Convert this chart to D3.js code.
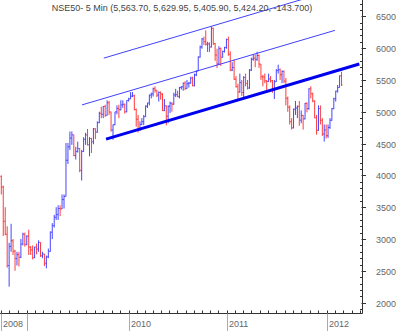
<!DOCTYPE html>
<html><head><meta charset="utf-8">
<script src="https://cdn.jsdelivr.net/npm/d3@7"></script>
<style>html,body{margin:0;padding:0;background:#fff;}svg{display:block;}</style>
</head><body><div id="chart"></div>
<script>
const title = "NSE50- 5 Min (5,563.70, 5,629.95, 5,405.90, 5,424.20, -143.700)";
// weekly bars, week ending Fridays from 2008-10-03 to 2012-02-24
const weekStart = "2008-10-03", weekEnd = "2012-02-25";
const opens = [3985,3818,3279,3075,2584,2885,2973,2810,2693,2755,2714,2921,3077,2917,
3046,2873,2828,2707,2874,2843,2948,2736,2763,2620,2719,2807,3108,3211,3342,3384,3480,3474,3620,3671,4238,4449,4586,4637,4313,4375,4424,4080,4375,4568,4636,4481,4580,4528,4732,4680,4829,4976,4959,5083,4945,5142,4997,4712,4796,4998,5052,5032,5108,5117,5000,5178,
5201,5244,5252,5036,4882,4718,4801,4845,4922,5088,5138,5262,5282,5361,5339,5262,5304,5278,5018,5093,4931,5087,5135,5119,5263,5269,5237,5383,5393,5449,5368,5440,5452,5530,5409,5580,5640,5860,6018,6144,6103,6062,6066,6018,6312,6071,5890,5752,5992,5857,5948,6011,
6135,5904,5654,5696,5512,5395,5310,5458,5303,5538,5445,5373,5654,5826,5842,5824,5884,5749,5552,5544,5486,5476,5516,5486,5366,5472,5648,5661,5581,5634,5482,5211,5072,4845,4747,5040,5059,5084,4868,4943,4888,5132,5050,5360,5284,5168,4905,4710,5050,4866,4651,4714,
4624,4754,4866,5049,5205,5325,5381,5563.70];
const highs = [4000,3840,3500,3200,2940,3240,3000,2830,2800,2800,3000,3100,3100,3060,
3147,2890,2900,2880,2930,2980,2950,2800,2770,2740,2850,3120,3250,3380,3500,3530,3530,3700,3700,4510,4510,4690,4690,4640,4450,4530,4430,4400,4600,4670,4730,4600,4590,4745,4740,4850,5000,5080,5090,5110,5180,5170,5000,4800,5000,5100,5110,5180,5180,5130,5180,5220,
5310,5310,5270,5050,4950,4850,4900,4950,5100,5140,5270,5300,5380,5400,5340,5320,5320,5290,5200,5100,5100,5160,5150,5300,5360,5330,5390,5400,5460,5480,5500,5470,5550,5550,5600,5650,5870,6040,6160,6180,6280,6100,6090,6338,6320,6080,5990,6030,6010,5960,6020,6150,
6180,5950,5780,5820,5560,5440,5600,5500,5560,5600,5500,5670,5850,5900,5900,5944,5900,5750,5580,5600,5500,5600,5560,5500,5500,5670,5740,5680,5650,5650,5530,5240,5100,4900,5050,5170,5100,5169,5020,4950,5140,5150,5370,5400,5300,5180,4950,5100,5100,4900,4800,4800,
4800,4900,5060,5220,5330,5420,5570,5629.95];
const lows = [3700,3050,3060,2550,2252,2800,2750,2502,2585,2570,2700,2900,2880,2900,
2750,2750,2680,2700,2760,2800,2720,2700,2575,2539,2700,2800,3000,3180,3300,3300,3360,3470,3480,3671,4180,4400,4480,4300,4250,4360,4050,3920,4370,4480,4470,4300,4353,4490,4570,4670,4820,4900,4900,4920,4940,4950,4687,4560,4790,4960,4900,5020,5060,4970,4990,5160,
5200,5230,5020,4766,4675,4700,4790,4790,4920,5060,5100,5210,5240,5300,5230,5160,5190,5010,5010,4786,4820,4980,5000,5110,5230,5230,5210,5350,5330,5340,5360,5380,5440,5400,5400,5560,5640,5850,5990,6050,6040,5940,5940,6010,6050,5800,5690,5740,5720,5850,5930,5990,
5880,5640,5640,5500,5380,5177,5300,5250,5230,5400,5350,5360,5640,5800,5700,5800,5690,5500,5400,5450,5330,5470,5460,5300,5200,5470,5600,5500,5450,5450,5100,5000,4800,4720,4740,4950,4900,4780,4820,4720,4880,4990,5030,5210,5150,4900,4640,4700,4800,4620,4531,4580,
4590,4730,4860,5040,5160,5300,5380,5405.90];
const closes = [3818,3279,3075,2584,2885,2973,2810,2693,2755,2714,2921,3077,2917,3046,
2873,2828,2707,2874,2843,2948,2736,2763,2620,2719,2807,3108,3211,3342,3384,3480,3474,3620,3671,4238,4449,4586,4637,4313,4375,4424,4080,4375,4568,4636,4481,4580,4528,4732,4680,4829,4976,4959,5083,4945,5142,4997,4712,4796,4998,5052,5032,5108,5117,5000,5178,5201,
5244,5252,5036,4882,4718,4801,4845,4922,5088,5138,5262,5282,5361,5339,5262,5304,5278,5018,5093,4931,5087,5135,5119,5263,5269,5237,5383,5393,5449,5368,5440,5452,5530,5409,5580,5640,5860,6018,6144,6103,6062,6066,6018,6312,6071,5890,5752,5992,5857,5948,6011,6135,
5904,5654,5696,5512,5395,5310,5458,5303,5538,5445,5373,5654,5826,5842,5824,5884,5749,5552,5544,5486,5476,5516,5486,5366,5472,5648,5661,5581,5634,5482,5211,5072,4845,4747,5040,5059,5084,4868,4943,4888,5132,5050,5360,5284,5168,4905,4710,5050,4866,4651,4714,4624,
4754,4866,5049,5205,5325,5381,5564,5424.20];
// trend lines: [date, value] endpoints
const supportLine = [["2009-10-12",4570],["2012-04-29",5751]];
const midChannel  = [["2009-07-18",5108],["2012-01-31",6279]];
const topChannel  = [["2009-10-04",5843],["2012-01-31",6918]];
const yTickValues = [2000,2500,3000,3500,4000,4500,5000,5500,6000,6500];
const yMinorStep = 100;
const yearLabels = ["2008","2010","2011","2012"];
const yearLabelDates = ["2008-10-03","2010-01-01","2011-01-01","2012-01-01"];
const yearBounds = ["2009-01-01","2010-01-01","2011-01-01","2012-01-01"];

const W = 400, H = 331;
const parse = d3.utcParse("%Y-%m-%d");
const dates = d3.utcFriday.range(parse(weekStart), parse(weekEnd));
const bars = dates.map((d,i)=>({d, o:opens[i], h:highs[i], l:lows[i], c:closes[i]}));

const plotRight = 362.5, axisY = 313.5;
const x = d3.scaleUtc()
  .domain(yearBounds.map(parse))
  .range([26.5,128.7,226.7,326.7]);
const y = d3.scaleLinear().domain([2000,6500]).range([302.7,16.3]);

const svg = d3.select("#chart").append("svg").attr("width",W).attr("height",H)
  .style("font-family","Arial, 'Liberation Sans', sans-serif");

svg.append("clipPath").attr("id","clip").append("rect")
  .attr("x",0).attr("y",0).attr("width",plotRight).attr("height",axisY);
const plot = svg.append("g").attr("clip-path","url(#clip)");

// bars
const blue = "#4646ff", red = "#ff3c3c";
const g = plot.append("g");
bars.forEach(b=>{
  const cx = x(b.d);
  const col = b.c >= b.o ? blue : red;
  g.append("line").attr("x1",cx).attr("x2",cx).attr("y1",y(b.h)).attr("y2",y(b.l))
    .attr("stroke",col).attr("stroke-width",1);
  g.append("line").attr("x1",cx-1).attr("x2",cx).attr("y1",y(b.o)).attr("y2",y(b.o))
    .attr("stroke",col).attr("stroke-width",1);
  g.append("line").attr("x1",cx).attr("x2",cx+1).attr("y1",y(b.c)).attr("y2",y(b.c))
    .attr("stroke",col).attr("stroke-width",1);
});

// trend lines
const tl = (pts, w, col) => plot.append("line")
  .attr("x1",x(parse(pts[0][0]))).attr("y1",y(pts[0][1]))
  .attr("x2",x(parse(pts[1][0]))).attr("y2",y(pts[1][1]))
  .attr("stroke",col).attr("stroke-width",w);
tl(topChannel,1,"#4040ff");
tl(midChannel,1,"#4040ff");
tl(supportLine,3,"#0000f0");

// title
svg.append("text").attr("x",51.7).attr("y",11.3).attr("font-size",9)
  .attr("fill","#444").attr("textLength",260.5).attr("lengthAdjust","spacingAndGlyphs")
  .text(title);

// y axis
const ax = svg.append("g").attr("stroke","#333").attr("stroke-width",1);
ax.append("line").attr("x1",plotRight).attr("x2",plotRight).attr("y1",0).attr("y2",axisY);
const minor = d3.range(1900, 6800, yMinorStep).filter(v=>!yTickValues.includes(v));
minor.forEach(v=>{
  const yy = Math.round(y(v))+0.5;
  if (yy<0||yy>axisY) return;
  ax.append("line").attr("x1",plotRight-2.5).attr("x2",plotRight).attr("y1",yy).attr("y2",yy);
});
yTickValues.forEach(v=>{
  const yy = Math.round(y(v))+0.5;
  ax.append("line").attr("x1",plotRight-1).attr("x2",plotRight+3.5).attr("y1",yy).attr("y2",yy);
  svg.append("text").attr("x",376).attr("y",yy).attr("dy","0.35em").attr("font-size",9)
    .attr("fill","#666").text(v);
});

// x axis
ax.append("line").attr("x1",0).attr("x2",plotRight).attr("y1",axisY).attr("y2",axisY);
const months = d3.utcMonth.range(d3.utcMonth.ceil(x.invert(0)), x.invert(plotRight));
months.forEach(m=>{
  const xx = Math.round(x(m))+0.5;
  ax.append("line").attr("x1",xx).attr("x2",xx).attr("y1",axisY-3).attr("y2",axisY);
});
const sepDates = [yearLabelDates[0]].concat(yearBounds);
sepDates.forEach(s=>{
  const xx = Math.round(x(parse(s)))+0.5;
  svg.append("line").attr("x1",xx).attr("x2",xx).attr("y1",axisY).attr("y2",H)
    .attr("stroke","#aaa").attr("stroke-width",1);
});
yearLabels.forEach((t,i)=>{
  const xx = Math.round(x(parse(yearLabelDates[i])))+0.5;
  svg.append("text").attr("x",xx+1.5).attr("y",327).attr("font-size",9)
    .attr("fill","#666").text(t);
});
</script></body></html>
